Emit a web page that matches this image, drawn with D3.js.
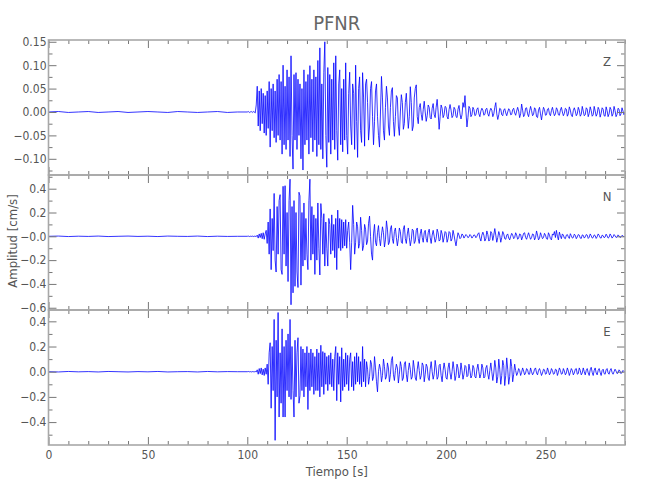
<!DOCTYPE html>
<html><head><meta charset="utf-8">
<script src="https://cdn.jsdelivr.net/npm/d3@7"></script>
<style>body{margin:0;background:#fff} svg{display:block}</style>
</head><body><svg id="c" width="650" height="500"></svg>
<script>
// ---------- data ----------
const title = "PFNR";
const xLabel = "Tiempo [s]";
const yLabel = "Amplitud [cm/s]";
const components = ["Z", "N", "E"];
const xDomain = [0, 290];
const xMajorTicks = [0, 50, 100, 150, 200, 250];
const xTickLabels = ["0", "50", "100", "150", "200", "250"];
const xMinorStep = 10;

const zDomain = [-0.1346, 0.1538];
const nDomain = [-0.619, 0.515];
const eDomain = [-0.582, 0.490];
const zTicks = [0.15, 0.10, 0.05, 0.00, -0.05, -0.10];
const zTickLabels = ["0.15", "0.10", "0.05", "0.00", "\u22120.05", "\u22120.10"];
const nTicks = [0.4, 0.2, 0.0, -0.2, -0.4, -0.6];
const nTickLabels = ["0.4", "0.2", "\u22120.0", "\u22120.2", "\u22120.4", "\u22120.6"];
const eTicks = [0.4, 0.2, 0.0, -0.2, -0.4];
const eTickLabels = ["0.4", "0.2", "0.0", "\u22120.2", "\u22120.4"];
const yMinorSteps = [0.025, 0.1, 0.1];

// sampling: pre-event every 5 s from 0 s, main record every 0.5 s from 100 s
const preStep = 5;
const mainStart = 100, mainStep = 0.5;

const zPre = [0.000, 0.001, -0.001, 0.000, 0.001, -0.001, 0.000, 0.001, -0.001, 0.000, 0.001, 0.000, -0.001, 0.001, 0.000, -0.001, 0.000, 0.001, -0.001, 0.000];
const nPre = [0.000, 0.002, -0.002, 0.001, -0.001, 0.002, -0.002, 0.000, 0.002, -0.001, 0.001, -0.002, 0.002, 0.000, -0.001, 0.002, -0.002, 0.001, -0.001, 0.000];
const ePre = [0.000, -0.002, 0.002, -0.001, 0.001, -0.002, 0.002, 0.000, -0.002, 0.001, -0.001, 0.002, -0.002, 0.000, 0.001, -0.002, 0.002, -0.001, 0.001, 0.000];

const zMain = [
 0.000, 0.001, -0.001, 0.000, 0.001, -0.001, 0.001, 0.000, -0.002, 0.015,
 0.055, -0.030, 0.045, -0.040, 0.050, -0.025, 0.040, -0.045, 0.035, -0.050,
 0.045, -0.035, 0.065, -0.075, 0.050, -0.040, 0.060, -0.055, 0.045, -0.065,
 0.070, -0.050, 0.080, -0.060, 0.065, -0.090, 0.100, -0.070, 0.055, -0.080,
 0.090, -0.060, 0.075, -0.095, 0.120, -0.050, -0.122, 0.080, -0.060, 0.084,
 -0.080, 0.070, -0.050, 0.060, -0.100, 0.050, -0.124, 0.090, -0.070, 0.065,
 -0.060, 0.080, -0.090, 0.099, -0.055, 0.070, -0.085, 0.090, -0.060, 0.075,
 -0.095, 0.110, -0.070, 0.137, -0.080, 0.060, -0.100, 0.085, 0.150, -0.050,
 -0.118, 0.095, -0.065, 0.080, -0.090, 0.070, -0.060, 0.105, -0.080, 0.120,
 -0.040, -0.103, 0.060, 0.090, -0.070, 0.050, -0.085, 0.070, -0.060, 0.105,
 -0.050, -0.090, 0.040, 0.085, -0.030, -0.070, 0.060, 0.040, -0.080, 0.100,
 -0.020, -0.097, 0.050, 0.075, -0.040, -0.065, 0.084, 0.030, -0.073, 0.060,
 0.070, 0.020, -0.060, -0.030, 0.050, 0.065, -0.010, -0.070, -0.020, 0.045,
 0.060, -0.010, -0.050, -0.075, 0.000, 0.076, 0.030, -0.040, -0.060, 0.010,
 0.055, 0.030, -0.030, -0.050, 0.010, 0.045, 0.052, -0.020, -0.052, -0.010,
 0.035, 0.030, -0.030, -0.050, 0.000, 0.037, 0.020, -0.037, -0.025, 0.020,
 0.040, 0.000, -0.035, -0.010, 0.054, 0.020, -0.040, -0.030, 0.030, 0.050,
 0.058, -0.010, -0.025, 0.010, 0.018, -0.005, -0.018, 0.005, 0.023, 0.000,
 -0.020, -0.008, 0.015, 0.010, -0.012, -0.015, 0.008, 0.018, -0.005, -0.012,
 0.010, 0.027, 0.000, -0.037, -0.010, 0.015, 0.008, -0.012, -0.006, 0.012,
 0.010, -0.010, -0.015, 0.005, 0.016, 0.004, -0.012, -0.008, 0.010, 0.006,
 -0.010, -0.012, 0.006, 0.014, -0.004, -0.015, -0.006, 0.020, 0.010, 0.035,
 0.000, -0.032, -0.012, 0.012, 0.008, -0.010, -0.006, 0.010, 0.005, -0.008,
 -0.006, 0.006, 0.009, -0.004, -0.010, 0.002, 0.008, 0.004, -0.007, -0.005,
 0.006, 0.008, -0.004, -0.009, 0.002, 0.008, 0.004, -0.010, -0.004, 0.010,
 0.020, -0.004, -0.016, -0.006, 0.008, 0.006, -0.006, -0.008, 0.004, 0.007,
 -0.002, -0.008, 0.000, 0.007, 0.004, -0.006, -0.005, 0.005, 0.008, -0.002,
 -0.007, 0.002, 0.010, 0.002, -0.012, -0.004, 0.017, 0.004, -0.010, -0.006,
 0.008, 0.009, -0.004, -0.010, 0.002, 0.012, 0.003, -0.008, -0.005, 0.009,
 0.006, -0.010, -0.012, 0.004, 0.010, -0.004, -0.017, -0.002, 0.010, 0.005,
 -0.007, -0.006, 0.006, 0.008, -0.004, -0.008, 0.003, 0.010, 0.000, -0.008,
 -0.004, 0.009, 0.005, -0.006, -0.007, 0.004, 0.010, 0.000, -0.008, -0.003,
 0.008, 0.006, -0.009, -0.004, 0.011, 0.004, -0.007, -0.010, 0.003, 0.009,
 0.002, -0.008, -0.004, 0.010, 0.004, -0.009, -0.005, 0.012, 0.002, -0.008,
 -0.006, 0.009, 0.006, -0.010, -0.003, 0.011, 0.003, -0.009, -0.006, 0.012,
 0.002, -0.009, -0.004, 0.010, 0.005, -0.011, -0.003, 0.009, 0.006, -0.008,
 -0.009, 0.011, 0.003, -0.010, -0.004, 0.010, 0.005, -0.009, -0.004, 0.012,
 0.003, -0.010, -0.005, 0.008, 0.006, -0.008, -0.004, 0.009, 0.002, -0.006,
 0.000
];

const nMain = [
 0.000, 0.002, -0.002, 0.001, -0.001, 0.002, -0.002, 0.001, 0.000, -0.002,
 0.010, -0.015, 0.020, -0.010, 0.025, -0.020, 0.030, -0.025, 0.020, 0.050,
 -0.060, 0.120, -0.150, 0.230, -0.280, 0.150, -0.120, 0.360, -0.200, -0.300,
 0.250, -0.150, 0.300, 0.350, -0.280, -0.320, 0.420, -0.150, 0.425, -0.250,
 0.200, -0.380, 0.300, 0.480, -0.575, 0.250, -0.475, 0.300, -0.420, 0.200,
 -0.300, -0.430, 0.370, 0.340, -0.410, 0.200, -0.250, 0.280, -0.200, 0.150,
 -0.150, -0.280, 0.300, 0.480, -0.200, 0.250, -0.150, 0.180, -0.320, 0.150,
 -0.200, 0.280, -0.100, -0.325, 0.275, 0.150, -0.150, 0.190, -0.250, 0.120,
 -0.100, -0.250, 0.150, 0.100, -0.150, 0.180, -0.120, 0.100, -0.180, 0.150,
 -0.280, 0.220, -0.100, 0.150, -0.120, 0.140, -0.100, 0.120, -0.080, 0.140,
 -0.100, 0.050, 0.120, -0.050, -0.280, -0.050, 0.260, 0.100, -0.150, -0.050,
 0.120, 0.080, -0.100, -0.060, 0.160, 0.050, -0.120, -0.080, 0.100, 0.060,
 -0.070, -0.040, 0.110, 0.170, 0.000, -0.150, -0.200, 0.020, 0.100, -0.050,
 -0.080, 0.030, 0.090, -0.020, -0.080, 0.010, 0.080, 0.030, -0.090, -0.030,
 0.130, 0.060, -0.070, -0.050, 0.060, 0.090, -0.020, -0.060, 0.040, 0.070,
 -0.010, -0.080, -0.020, 0.070, 0.040, -0.050, -0.060, 0.060, 0.090, -0.020,
 -0.060, 0.020, 0.070, -0.010, -0.080, -0.030, 0.060, 0.050, -0.060, -0.040,
 0.050, 0.070, -0.020, -0.060, 0.020, 0.060, -0.010, -0.050, 0.030, 0.050,
 -0.020, -0.050, 0.030, 0.060, -0.010, -0.060, 0.010, 0.050, 0.000, -0.050,
 -0.020, 0.060, 0.030, -0.040, -0.030, 0.050, 0.020, -0.050, -0.010, 0.040,
 0.030, -0.050, -0.020, 0.040, 0.030, -0.040, -0.020, 0.050, 0.010, -0.040,
 -0.080, -0.020, 0.030, 0.010, -0.020, -0.010, 0.020, 0.010, -0.015, 0.000,
 0.015, 0.005, -0.012, -0.005, 0.015, 0.005, -0.015, -0.003, 0.012, 0.008,
 -0.012, 0.000, 0.020, 0.030, -0.015, -0.040, 0.010, 0.035, 0.010, -0.040,
 -0.020, 0.045, 0.015, -0.040, -0.030, 0.040, 0.025, -0.035, 0.010, 0.065,
 0.010, -0.050, -0.010, 0.040, 0.010, -0.050, -0.010, 0.040, 0.020, -0.020,
 -0.025, 0.010, 0.020, -0.015, -0.030, 0.000, 0.025, 0.010, -0.020, -0.010,
 0.030, 0.010, -0.025, -0.015, 0.020, 0.015, -0.030, -0.005, 0.025, 0.030,
 -0.010, -0.025, 0.005, 0.030, 0.000, -0.025, -0.010, 0.020, 0.015, -0.030,
 -0.010, 0.045, 0.010, -0.030, -0.015, 0.030, 0.005, -0.020, -0.010, 0.025,
 0.010, -0.020, -0.025, 0.030, 0.010, -0.020, -0.030, 0.020, 0.010, 0.040,
 -0.010, 0.050, 0.000, -0.030, 0.035, 0.005, -0.020, 0.020, 0.010, -0.015,
 -0.020, 0.010, 0.015, -0.005, -0.018, 0.022, 0.005, -0.015, -0.010, 0.018,
 0.008, -0.020, -0.005, 0.015, 0.010, -0.015, -0.018, 0.012, 0.008, -0.015,
 -0.005, 0.015, 0.010, -0.018, -0.008, 0.020, 0.005, -0.015, -0.010, 0.012,
 0.006, -0.018, -0.004, 0.020, 0.008, -0.012, -0.015, 0.010, 0.005, -0.012,
 -0.006, 0.018, 0.004, -0.015, -0.008, 0.020, 0.006, -0.015, -0.005, 0.015,
 0.004, -0.010, -0.006, 0.012, 0.003, -0.010, -0.004, 0.008, 0.002, -0.004,
 0.000
];

const eMain = [
 0.000, 0.002, -0.001, 0.001, -0.002, 0.001, 0.000, -0.001, 0.002, -0.002,
 0.015, -0.020, 0.025, -0.015, 0.030, -0.025, 0.020, -0.030, 0.030, -0.020,
 0.060, -0.100, 0.150, 0.230, -0.290, 0.200, -0.150, 0.415, -0.545, 0.250,
 -0.200, 0.470, -0.360, 0.150, -0.250, 0.340, -0.360, 0.200, -0.360, 0.250,
 -0.150, 0.300, -0.200, 0.415, -0.220, 0.200, -0.150, -0.360, 0.250, -0.200,
 0.150, 0.270, -0.250, -0.190, 0.200, -0.150, 0.180, -0.200, 0.150, -0.120,
 0.200, -0.300, 0.150, -0.150, 0.180, -0.120, 0.150, -0.180, 0.120, -0.150,
 0.180, -0.150, 0.150, -0.200, 0.210, -0.120, 0.160, -0.180, 0.150, -0.100,
 0.120, -0.150, 0.130, -0.100, 0.150, -0.120, 0.100, -0.150, 0.120, 0.200,
 -0.230, 0.150, -0.100, 0.120, -0.240, 0.190, -0.150, 0.100, -0.120, 0.150,
 -0.100, 0.130, -0.150, 0.100, 0.150, -0.120, 0.080, -0.150, 0.120, -0.100,
 0.150, -0.080, 0.120, -0.100, 0.080, -0.120, 0.200, -0.080, 0.100, -0.120,
 0.080, 0.020, -0.100, -0.040, 0.090, 0.060, -0.070, -0.040, 0.120, 0.030,
 -0.080, -0.160, 0.000, 0.060, 0.020, -0.080, -0.030, 0.100, 0.040, -0.060,
 -0.040, 0.070, 0.030, -0.080, -0.020, 0.090, 0.120, -0.020, -0.070, 0.010,
 0.060, 0.030, -0.090, -0.020, 0.080, 0.040, -0.070, -0.050, 0.060, 0.080,
 -0.020, -0.080, 0.010, 0.070, 0.020, -0.060, -0.040, 0.090, 0.030, -0.050,
 -0.070, 0.020, 0.080, 0.010, -0.060, -0.030, 0.070, 0.050, -0.080, -0.020,
 0.060, 0.040, -0.050, -0.070, 0.020, 0.080, 0.000, -0.060, -0.020, 0.090,
 0.030, -0.060, -0.040, 0.050, 0.060, -0.030, -0.080, 0.010, 0.070, 0.020,
 -0.050, -0.060, 0.030, 0.070, -0.010, -0.060, 0.000, 0.080, 0.020, -0.070,
 -0.030, 0.060, 0.030, -0.050, -0.020, 0.070, 0.010, -0.060, -0.020, 0.050,
 0.040, -0.040, -0.030, 0.060, 0.010, -0.050, -0.030, 0.050, 0.030, -0.040,
 -0.050, 0.020, 0.060, 0.000, -0.050, -0.020, 0.060, 0.030, -0.050, -0.040,
 0.030, 0.050, -0.020, -0.060, 0.010, 0.070, 0.000, -0.070, -0.010, 0.090,
 0.030, -0.090, -0.040, 0.100, 0.020, -0.100, -0.030, 0.090, 0.050, -0.110,
 -0.030, 0.110, 0.020, -0.100, -0.040, 0.100, 0.040, -0.080, -0.020, 0.060,
 0.010, -0.030, -0.010, 0.025, 0.010, -0.030, -0.005, 0.030, 0.005, -0.025,
 -0.010, 0.025, 0.015, -0.020, -0.020, 0.030, 0.000, -0.025, -0.010, 0.020,
 0.030, -0.010, -0.025, 0.010, 0.025, 0.000, -0.030, -0.010, 0.020, 0.015,
 -0.020, -0.015, 0.030, 0.005, -0.025, -0.010, 0.025, 0.010, -0.020, -0.015,
 0.020, 0.015, -0.030, -0.005, 0.030, 0.010, -0.020, -0.015, 0.025, 0.005,
 -0.025, -0.010, 0.030, 0.005, -0.030, -0.005, 0.025, 0.010, -0.025, -0.010,
 0.020, 0.025, -0.020, -0.015, 0.030, 0.010, -0.025, -0.010, 0.030, 0.000,
 -0.025, 0.010, 0.025, -0.010, -0.030, 0.015, 0.035, -0.005, -0.030, 0.010,
 0.030, -0.010, -0.025, 0.010, 0.025, -0.005, -0.030, 0.010, 0.020, -0.015,
 -0.020, 0.015, 0.025, -0.010, -0.020, 0.010, 0.025, -0.005, -0.020, 0.000,
 0.020, 0.005, -0.015, -0.010, 0.015, 0.005, -0.015, -0.005, 0.010, 0.000,
 0.000
];

// ---------- layout ----------
const W = 650, H = 500;
const left = 48.5, right = 625;
const panelTops = [40, 175, 310];
const panelH = 135;
const fontFam = "'Liberation Sans Narrow','DejaVu Sans Condensed','Arial Narrow',sans-serif";
const textCol = "#555";
const frameCol = "#a8a8a8";
const tickCol = "#777";

const svg = d3.select("#c");
svg.append("rect").attr("width", W).attr("height", H).attr("fill", "#fff");

const x = d3.scaleLinear().domain(xDomain).range([left, right]);

const panels = [
  {name: components[0], domain: zDomain, ticks: zTicks, labels: zTickLabels, minor: yMinorSteps[0], pre: zPre, main: zMain},
  {name: components[1], domain: nDomain, ticks: nTicks, labels: nTickLabels, minor: yMinorSteps[1], pre: nPre, main: nMain},
  {name: components[2], domain: eDomain, ticks: eTicks, labels: eTickLabels, minor: yMinorSteps[2], pre: ePre, main: eMain}
];

const xMinor = d3.range(xDomain[0], xDomain[1] + 0.001, xMinorStep).filter(v => !xMajorTicks.includes(v));

function styleAxis(g, col, w) {
  g.select(".domain").remove();
  g.selectAll(".tick line").attr("stroke", col).attr("stroke-width", w);
  g.selectAll(".tick text").attr("fill", textCol).attr("font-family", fontFam).attr("font-size", 12);
}

panels.forEach((p, i) => {
  const top = panelTops[i], bot = top + panelH;
  const y = d3.scaleLinear().domain(p.domain).range([bot, top]);
  const yMinor = d3.range(Math.ceil(p.domain[0] / p.minor) * p.minor, p.domain[1], p.minor)
    .map(v => +v.toFixed(4)).filter(v => !p.ticks.some(t => Math.abs(t - v) < 1e-6));

  const data = p.pre.map((v, k) => ({t: k * preStep, v}))
    .concat(p.main.map((v, k) => ({t: mainStart + k * mainStep, v})));

  const clipId = "clip" + i;
  svg.append("clipPath").attr("id", clipId).append("rect")
    .attr("x", left).attr("y", top).attr("width", right - left).attr("height", panelH);

  const line = d3.line().x(d => x(d.t)).y(d => y(d.v));
  svg.append("path").datum(data)
    .attr("clip-path", `url(#${clipId})`)
    .attr("fill", "none").attr("stroke", "#0000ff").attr("stroke-width", 0.8)
    .attr("stroke-linejoin", "round")
    .attr("d", line);

  // x axes (top and bottom of each panel), ticks inward
  const fmtX = d => xTickLabels[xMajorTicks.indexOf(d)];
  const gb = svg.append("g").attr("transform", `translate(0,${bot})`)
    .call(d3.axisBottom(x).tickValues(xMajorTicks).tickSize(-8).tickPadding(5)
      .tickFormat(i === 2 ? fmtX : () => ""));
  styleAxis(gb, tickCol, 1);
  const gbm = svg.append("g").attr("transform", `translate(0,${bot})`)
    .call(d3.axisBottom(x).tickValues(xMinor).tickSize(-4).tickFormat(() => ""));
  styleAxis(gbm, tickCol, 1);
  const gt = svg.append("g").attr("transform", `translate(0,${top})`)
    .call(d3.axisTop(x).tickValues(xMajorTicks).tickSize(-8).tickFormat(() => ""));
  styleAxis(gt, tickCol, 1);
  const gtm = svg.append("g").attr("transform", `translate(0,${top})`)
    .call(d3.axisTop(x).tickValues(xMinor).tickSize(-4).tickFormat(() => ""));
  styleAxis(gtm, tickCol, 1);

  // y axes (left with labels, right without)
  const gl = svg.append("g").attr("transform", `translate(${left},0)`)
    .call(d3.axisLeft(y).tickValues(p.ticks).tickSize(-8).tickPadding(2)
      .tickFormat(d => p.labels[p.ticks.indexOf(d)]));
  styleAxis(gl, tickCol, 1);
  const glm = svg.append("g").attr("transform", `translate(${left},0)`)
    .call(d3.axisLeft(y).tickValues(yMinor).tickSize(-4).tickFormat(() => ""));
  styleAxis(glm, tickCol, 1);
  const gr = svg.append("g").attr("transform", `translate(${right},0)`)
    .call(d3.axisRight(y).tickValues(p.ticks).tickSize(-8).tickFormat(() => ""));
  styleAxis(gr, tickCol, 1);
  const grm = svg.append("g").attr("transform", `translate(${right},0)`)
    .call(d3.axisRight(y).tickValues(yMinor).tickSize(-4).tickFormat(() => ""));
  styleAxis(grm, tickCol, 1);

  // frame
  svg.append("rect").attr("x", left).attr("y", top).attr("width", right - left).attr("height", panelH)
    .attr("fill", "none").attr("stroke", frameCol).attr("stroke-width", 1.6);

  // component label
  svg.append("text").attr("x", 607).attr("y", top + 26).attr("text-anchor", "middle")
    .attr("font-family", fontFam).attr("font-size", 13).attr("fill", textCol).text(p.name);
});

// titles
svg.append("text").attr("x", (left + right) / 2).attr("y", 30).attr("text-anchor", "middle")
  .attr("font-family", fontFam).attr("font-size", 20).attr("fill", "#666").text(title);
svg.append("text").attr("x", (left + right) / 2).attr("y", 476).attr("text-anchor", "middle")
  .attr("font-family", fontFam).attr("font-size", 13).attr("fill", textCol).text(xLabel);
svg.append("text").attr("transform", "translate(17,241) rotate(-90)").attr("text-anchor", "middle")
  .attr("font-family", fontFam).attr("font-size", 13).attr("fill", textCol).text(yLabel);
</script>
</body></html>
